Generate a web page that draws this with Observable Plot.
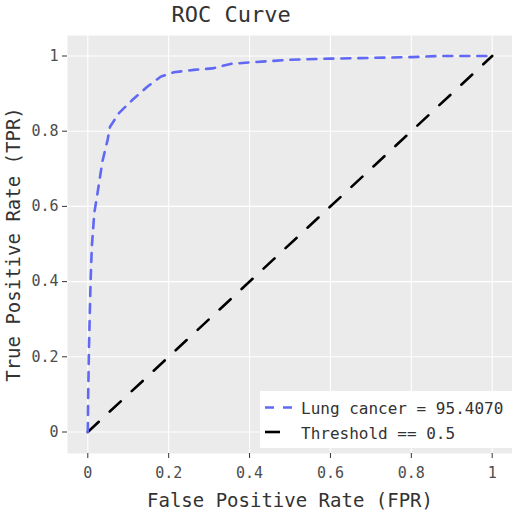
<!DOCTYPE html>
<html>
<head>
<meta charset="utf-8">
<script src="https://cdn.jsdelivr.net/npm/d3@7"></script>
<script src="https://cdn.jsdelivr.net/npm/@observablehq/plot@0.6"></script>
<style>
  html, body { margin: 0; padding: 0; background: #ffffff; }
  #chart { width: 512px; height: 512px; }
</style>
</head>
<body>
<div id="chart"></div>
<script>
// ---- data ----
const fpr = [0, 0.001, 0.003, 0.007, 0.010, 0.016, 0.024, 0.036, 0.049, 0.055, 0.077, 0.110, 0.147, 0.180, 0.213, 0.262, 0.308, 0.353, 0.402, 0.50, 0.60, 0.70, 0.80, 0.87, 1.0];
const tpr = [0, 0.100, 0.229, 0.404, 0.493, 0.582, 0.635, 0.719, 0.777, 0.812, 0.848, 0.883, 0.918, 0.945, 0.957, 0.963, 0.967, 0.979, 0.983, 0.990, 0.993, 0.995, 0.997, 1.0, 1.0];
const thresholdX = [0, 1];
const thresholdY = [0, 1];
const xTicks = [0, 0.2, 0.4, 0.6, 0.8, 1];
const yTicks = [0, 0.2, 0.4, 0.6, 0.8, 1];
const titleText = "ROC Curve";
const xLabel = "False Positive Rate (FPR)";
const yLabel = "True Positive Rate (TPR)";
const legendLabels = ["Lung cancer = 95.4070", "Threshold == 0.5"];

const curve = fpr.map((f, i) => ({fpr: f, tpr: tpr[i]}));
const diag = thresholdX.map((x, i) => ({fpr: x, tpr: thresholdY[i]}));

const BLUE = "#6068f4";
const FONT = "DejaVu Sans Mono";
const fmt = d => String(+d.toFixed(1));

const chart = Plot.plot({
  width: 512,
  height: 512,
  marginLeft: 67,
  marginRight: 0,
  marginTop: 35,
  marginBottom: 59,
  style: {fontFamily: FONT, background: "#ffffff", overflow: "visible"},
  x: {domain: [0, 1], range: [87.3, 491.7]},
  y: {domain: [0, 1], range: [431.5, 55.5]},
  marks: [
    Plot.frame({fill: "#EBEBEB", stroke: "none"}),
    Plot.gridX(xTicks, {stroke: "#ffffff", strokeOpacity: 1, strokeWidth: 1.1}),
    Plot.gridY(yTicks, {stroke: "#ffffff", strokeOpacity: 1, strokeWidth: 1.1}),
    Plot.axisX(xTicks, {tickSize: 5, tickPadding: 9, fontSize: 15, label: null, tickFormat: fmt, stroke: "#333333", fill: "#4D4D4D"}),
    Plot.axisY(yTicks, {tickSize: 5, tickPadding: 4, fontSize: 15, label: null, tickFormat: fmt, stroke: "#333333", fill: "#4D4D4D"}),
    Plot.line(diag, {x: "fpr", y: "tpr", stroke: "#000000", strokeWidth: 2.6, strokeDasharray: "15,15"}),
    Plot.line(curve, {x: "fpr", y: "tpr", stroke: BLUE, strokeWidth: 2.6, strokeDasharray: "9,8"}),
    Plot.text([titleText], {text: d => d, frameAnchor: "top-left", dx: 104, dy: -14, textAnchor: "start", lineAnchor: "bottom", fontSize: 22, fill: "#333333"}),
    Plot.text([xLabel], {text: d => d, frameAnchor: "bottom", dy: 53, textAnchor: "middle", lineAnchor: "bottom", fontSize: 19, fill: "#333333"}),
    Plot.text([yLabel], {text: d => d, frameAnchor: "left", dx: -48, rotate: -90, textAnchor: "middle", lineAnchor: "bottom", fontSize: 19, fill: "#333333"})
  ]
});

// legend
const svg = d3.select(chart);
const lg = svg.append("g").attr("font-family", FONT).attr("text-anchor", "start");
lg.append("rect").attr("x", 260).attr("y", 391).attr("width", 252).attr("height", 57).attr("fill", "#ffffff");
lg.append("line").attr("x1", 265).attr("x2", 292).attr("y1", 407.5).attr("y2", 407.5)
  .attr("stroke", BLUE).attr("stroke-width", 2.6).attr("stroke-dasharray", "9,9");
lg.append("line").attr("x1", 265).attr("x2", 280).attr("y1", 432).attr("y2", 432)
  .attr("stroke", "#000000").attr("stroke-width", 2.6).attr("stroke-dasharray", "15,15");
lg.append("text").attr("x", 301).attr("y", 414).attr("font-size", 16).attr("fill", "#333333").attr("text-anchor", "start").text(legendLabels[0]);
lg.append("text").attr("x", 301).attr("y", 439).attr("font-size", 16).attr("fill", "#333333").attr("text-anchor", "start").text(legendLabels[1]);

document.getElementById("chart").appendChild(chart);
</script>
</body>
</html>
